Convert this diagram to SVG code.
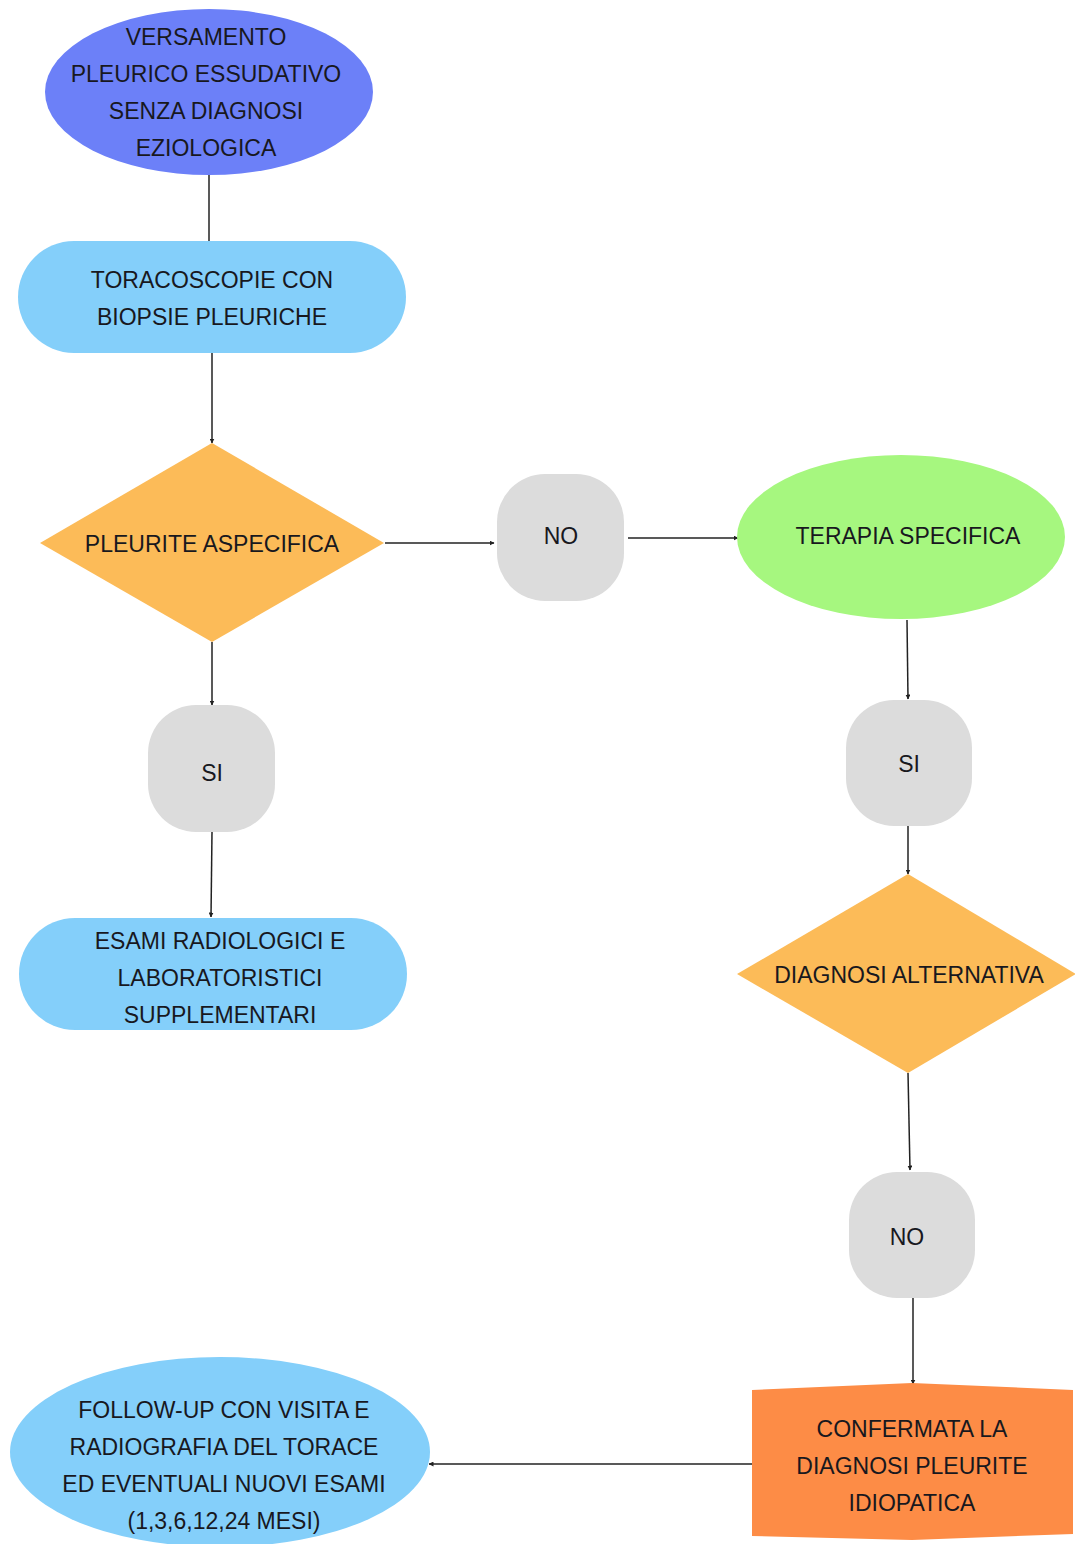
<svg xmlns="http://www.w3.org/2000/svg" width="1075" height="1544" viewBox="0 0 1075 1544">
<defs>
<style>
.t{font-family:"Liberation Sans",Arial,sans-serif;font-size:23px;fill:#18181e;text-anchor:middle}
.c{stroke:#222;stroke-width:1.5;fill:none}
.blue{fill:#84cffa}
.grey{fill:#dcdcdc}
.amber{fill:#fcbb58}
</style>
<marker id="ah" viewBox="0 0 10 10" refX="9" refY="5" markerWidth="5" markerHeight="5" orient="auto" markerUnits="userSpaceOnUse">
<path d="M0,0 L10,5 L0,10 z" fill="#222"/>
</marker>
</defs>
<rect width="1075" height="1544" fill="#ffffff"/>
<g id="connectors">
<line class="c" x1="209" y1="175" x2="209" y2="242"/>
<line class="c" x1="212" y1="353" x2="212" y2="443" marker-end="url(#ah)"/>
<line class="c" x1="385" y1="543" x2="494" y2="543" marker-end="url(#ah)"/>
<line class="c" x1="628" y1="538" x2="738" y2="538" marker-end="url(#ah)"/>
<line class="c" x1="212" y1="642" x2="212" y2="705" marker-end="url(#ah)"/>
<line class="c" x1="212" y1="832" x2="211" y2="917" marker-end="url(#ah)"/>
<line class="c" x1="907" y1="620" x2="908" y2="699" marker-end="url(#ah)"/>
<line class="c" x1="908" y1="826" x2="908" y2="874" marker-end="url(#ah)"/>
<line class="c" x1="908" y1="1073" x2="910" y2="1170" marker-end="url(#ah)"/>
<line class="c" x1="913" y1="1298" x2="913" y2="1384" marker-end="url(#ah)"/>
<line class="c" x1="752" y1="1464" x2="429" y2="1464" marker-end="url(#ah)"/>
</g>
<g id="n1">
<ellipse cx="209" cy="92" rx="164" ry="83" fill="#6c80f8"/>
<text class="t" x="206" y="45">VERSAMENTO</text>
<text class="t" x="206" y="82">PLEURICO ESSUDATIVO</text>
<text class="t" x="206" y="119">SENZA DIAGNOSI</text>
<text class="t" x="206" y="156">EZIOLOGICA</text>
</g>
<g id="n2">
<rect class="blue" x="18" y="241" width="388" height="112" rx="56"/>
<text class="t" x="212" y="288">TORACOSCOPIE CON</text>
<text class="t" x="212" y="325">BIOPSIE PLEURICHE</text>
</g>
<g id="n3">
<polygon class="amber" points="212,443 384,543 212,642 40,543"/>
<text class="t" x="212" y="552">PLEURITE ASPECIFICA</text>
</g>
<g id="n4">
<rect class="grey" x="497" y="474" width="127" height="127" rx="48"/>
<text class="t" x="561" y="544">NO</text>
</g>
<g id="n5">
<ellipse cx="901" cy="537" rx="164" ry="82" fill="#a6f77f"/>
<text class="t" x="908" y="544">TERAPIA SPECIFICA</text>
</g>
<g id="n6">
<rect class="grey" x="148" y="705" width="127" height="127" rx="48"/>
<text class="t" x="212" y="781">SI</text>
</g>
<g id="n7">
<rect class="blue" x="19" y="918" width="388" height="112" rx="56"/>
<text class="t" x="220" y="949">ESAMI RADIOLOGICI E</text>
<text class="t" x="220" y="986">LABORATORISTICI</text>
<text class="t" x="220" y="1023">SUPPLEMENTARI</text>
</g>
<g id="n8">
<rect class="grey" x="846" y="700" width="126" height="126" rx="48"/>
<text class="t" x="909" y="772">SI</text>
</g>
<g id="n9">
<polygon class="amber" points="908,874 1076,974 908,1073 737,974"/>
<text class="t" x="909" y="983">DIAGNOSI ALTERNATIVA</text>
</g>
<g id="n10">
<rect class="grey" x="849" y="1172" width="126" height="126" rx="48"/>
<text class="t" x="907" y="1245">NO</text>
</g>
<g id="n11">
<polygon points="752,1390 912,1383 1073,1390 1073,1534 912,1540 752,1536" fill="#fd8c46"/>
<text class="t" x="912" y="1437">CONFERMATA LA</text>
<text class="t" x="912" y="1474">DIAGNOSI PLEURITE</text>
<text class="t" x="912" y="1511">IDIOPATICA</text>
</g>
<g id="n12">
<ellipse cx="220" cy="1452" rx="210" ry="95" fill="#84cffa"/>
<text class="t" x="224" y="1418">FOLLOW-UP CON VISITA E</text>
<text class="t" x="224" y="1455">RADIOGRAFIA DEL TORACE</text>
<text class="t" x="224" y="1492">ED EVENTUALI NUOVI ESAMI</text>
<text class="t" x="224" y="1529">(1,3,6,12,24 MESI)</text>
</g>
</svg>
